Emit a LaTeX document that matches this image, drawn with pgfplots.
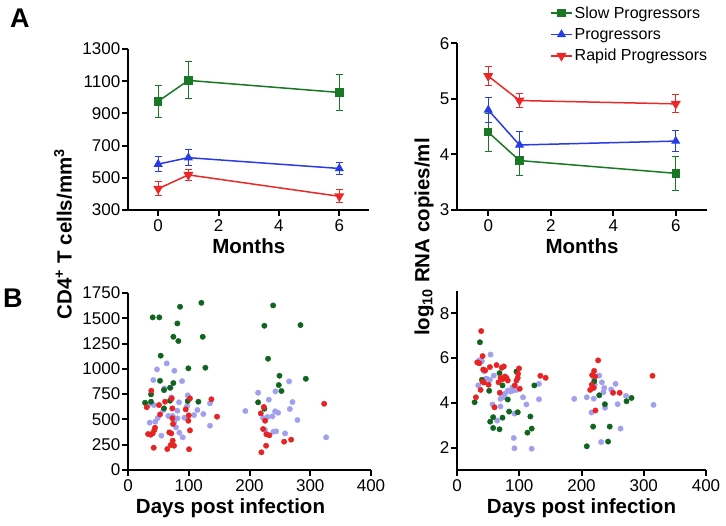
\documentclass[border=0pt]{standalone}
\usepackage{fontspec}
\setmainfont{Liberation Sans}
\usepackage{pgfplots}
\pgfplotsset{compat=1.18}
\definecolor{lgreen}{RGB}{25,120,35}
\definecolor{lblue}{RGB}{40,60,230}
\definecolor{lred}{RGB}{235,40,40}
\definecolor{sgreen}{RGB}{15,100,30}
\definecolor{sblue}{RGB}{160,160,238}
\definecolor{sred}{RGB}{232,35,35}
\pgfplotsset{prism/.style={scale only axis, axis lines=left,
  axis line style={line width=2pt,-},
  tick align=outside, major tick length=6pt,
  tick style={line width=2pt, black},
  ticklabel style={font=\fontsize{17}{17}\selectfont},
  yticklabel style={inner sep=1.5pt},
  /pgf/number format/assume math mode=true,
  /pgf/number format/1000 sep={},
  label style={font=\bfseries\fontsize{20.5}{20.5}\selectfont},
  clip=false},
  lineplot/.style={line width=1.5pt, mark options={solid, line width=1pt},
  /pgfplots/error bars/y dir=both, /pgfplots/error bars/y explicit,
  /pgfplots/error bars/error bar style={line width=1pt},
  /pgfplots/error bars/error mark=-,
  /pgfplots/error bars/error mark options={rotate=90, line width=1pt, mark size=3.5pt}},
  dots/.style={only marks, mark=*, mark size=2.7pt}
}
\begin{document}
\begin{tikzpicture}
\path[use as bounding box] (0,0) rectangle (726pt,-526pt);
% Panel A left
\begin{axis}[prism, at={(128pt,-210pt)}, anchor=south west,
  width=241.5pt, height=161pt, xmin=-1, xmax=7, ymin=300, ymax=1300,
  xtick={0,2,4,6}, ytick={300,500,...,1300}, xlabel={Months}]
\addplot[lgreen, lineplot, mark=square*, mark size=3.7pt] coordinates {(0,975) +- (0,100) (1,1105) +- (0,115) (6,1030) +- (0,110)};
\addplot[lblue, lineplot, mark=triangle*, mark size=4.3pt] coordinates {(0,585) +- (0,45) (1,625) +- (0,48) (6,558) +- (0,35)};
\addplot[lred, lineplot, mark=triangle*, mark size=4.3pt, mark options={rotate=180}] coordinates {(0,432) +- (0,45) (1,518) +- (0,35) (6,385) +- (0,40)};
\end{axis}
% Panel A right
\begin{axis}[prism, at={(457pt,-210pt)}, anchor=south west,
  width=250pt, height=166.7pt, xmin=-1, xmax=7, ymin=3, ymax=6,
  xtick={0,2,4,6}, ytick={3,4,5,6}, xlabel={Months},
  legend style={at={(axis description cs:0.36,1.245)}, anchor=north west, draw=none, fill=none,
    font=\fontsize{16}{16}\selectfont, row sep=4.5pt, cells={anchor=west}},
  legend image code/.code={\draw[#1, mark repeat=2, mark phase=2] plot coordinates {(0pt,0pt) (10.5pt,0pt) (21pt,0pt)};}]
\addplot[lgreen, lineplot, mark=square*, mark size=3.7pt] coordinates {(0,4.4) +- (0,0.34) (1,3.89) +- (0,0.27) (6,3.66) +- (0,0.31)};
\addlegendentry{Slow Progressors}
\addplot[lblue, lineplot, mark=triangle*, mark size=4.3pt] coordinates {(0,4.8) +- (0,0.22) (1,4.17) +- (0,0.25) (6,4.24) +- (0,0.19)};
\addlegendentry{Progressors}
\addplot[lred, lineplot, mark=triangle*, mark size=4.3pt, mark options={rotate=180}] coordinates {(0,5.41) +- (0,0.17) (1,4.97) +- (0,0.13) (6,4.91) +- (0,0.16)};
\addlegendentry{Rapid Progressors}
\end{axis}
% Panel B left
\begin{axis}[prism, at={(128pt,-470pt)}, anchor=south west,
  width=243pt, height=177pt, xmin=0, xmax=400, ymin=0, ymax=1750,
  xtick={0,100,...,400}, ytick={0,250,...,1750}, xlabel={Days post infection},
  xlabel style={xshift=-19pt}]
\addplot[dots, sblue] table {
63.7 1054
47.8 995
76.3 981
41.7 889
89 879
59.8 807
70.3 813
71.3 718
98.3 738
135 659
42.8 642
33.4 642
84 669
58.2 593
81.3 586
97.2 632
114.2 593
124 553
108.7 543
66.4 534
73.6 534
81.3 511
92.8 517
35.7 468
45 478
76.3 474
79 422
54.9 339
84.5 369
90.1 323
135 438
48.9 514
265.2 876
214.2 764
242.7 777
231.8 695
270.7 672
193.2 583
242.2 580
247.1 566
266.4 603
229.5 524
237.8 530
222.4 514
278.9 494
239.4 378
243.8 382
258.6 362
326.2 323
225.7 395
};
\addplot[dots, sgreen] table {
85.7 1614
120.8 1653
40.6 1509
51.6 1509
81.3 1449
74.7 1317
82.9 1275
123 1317
53.8 1130
99.4 1005
127.4 1011
52.7 882
74.7 860
59.3 790
69.2 813
37.9 748
28 665
37.9 675
69.2 685
98.3 682
115.8 675
59.3 609
238.9 1627
224.5 1426
283.9 1433
230.6 1100
249.3 932
292.7 902
248.2 840
252.6 781
214.2 669
224.5 606
};
\addplot[dots, sred] table {
38.4 784
30.8 620
51 642
61 675
72 708
102 708
137.3 699
52.8 550
73 609
95 599
100 540
73 511
146.6 527
99.4 487
74.1 455
33 356
37.4 349
40.7 362
43.3 395
44.5 418
68 372
71.3 362
102 392
73.6 290
70.3 247
75.8 240
64.7 207
42.3 220
100.5 205
223.6 623
218.6 560
225.7 487
222.4 405
227.8 353
232.7 343
322.9 655
257 280
268.5 300
227.3 240
219.6 175
};
\end{axis}
% Panel B right
\begin{axis}[prism, at={(457pt,-470pt)}, anchor=south west,
  width=249pt, height=179pt, xmin=0, xmax=400, ymin=1, ymax=9,
  xtick={0,100,...,400}, ytick={2,4,6,8}, xlabel={Days post infection}]
\addplot[dots, sblue] table {
35.7 5.90
40 5.86
53.9 6.16
43.2 5.42
47.5 5.08
52.8 5.03
59.2 5.22
34.1 4.78
46.4 5.08
81.6 4.55
85.9 4.51
90.1 4.55
76.8 4.40
75.2 4.25
69.9 4.18
106.1 4.25
131.7 4.85
131.7 4.16
57.1 3.93
69.9 3.84
111.5 3.93
64.5 3.21
92.3 3.52
91.2 2.43
92.3 1.97
120 1.95
89.1 4.70
95.5 4.58
228.5 5.22
220.5 5.08
232.8 4.92
221.1 4.81
254.7 4.85
236.5 4.67
247.7 4.60
235.2 4.48
271.5 4.31
208.5 4.25
219.7 4.19
188.3 4.18
258.1 3.94
315.7 3.91
237.9 3.78
216 3.57
262.7 2.85
231.5 2.25
};
\addplot[dots, sgreen] table {
36.8 6.71
68.3 5.33
95.5 5.40
40 5.03
51.7 4.54
73.1 4.78
28.3 4.03
81.6 4.15
124.3 4.78
58.1 3.36
83.7 3.61
97.6 3.58
53.3 3.16
73.1 3.34
58.1 2.88
68.3 2.82
117.9 3.39
120 2.85
113.1 2.67
220.5 4.97
228.5 4.34
237.6 3.94
272.3 4.07
280.3 4.22
218.7 2.94
245.3 2.94
242.7 2.27
208.5 2.06
};
\addplot[dots, sred] table {
38.9 7.21
41.1 6.09
32.5 5.81
35.7 5.77
42.1 5.49
45.3 5.45
52.8 5.60
63.5 5.69
72 5.57
75.2 5.63
99.7 5.54
79.5 5.12
69.9 5.12
73.1 5.06
76.8 5.18
66.7 4.92
81.6 5.00
98.1 5.30
97.6 5.12
95.5 5.00
41.1 4.94
43.2 4.91
37.9 4.58
50.7 4.81
30.4 4.25
68.8 4.45
92.8 4.78
100.8 4.63
60.3 3.80
133.9 5.21
142.4 5.12
226.7 5.90
220.3 5.43
217.1 5.24
221.9 5.18
216.5 4.81
219.7 4.67
213.9 4.58
250.7 4.45
261.3 4.45
222.4 3.66
314.1 5.21
};
\end{axis}
\node[font=\bfseries\fontsize{27}{27}\selectfont, anchor=base west, inner sep=0pt] at (10pt,-28pt) {A};
\node[font=\bfseries\fontsize{27}{27}\selectfont, anchor=base west, inner sep=0pt] at (3pt,-308pt) {B};
\node[rotate=90, font=\bfseries\fontsize{20.5}{20.5}\selectfont] at (63pt,-234pt) {CD4\textsuperscript{+} T cells/mm\textsuperscript{3}};
\node[rotate=90, font=\bfseries\fontsize{20.5}{20.5}\selectfont] at (424pt,-237pt) {log\textsubscript{10} RNA copies/ml};
\end{tikzpicture}
\end{document}
